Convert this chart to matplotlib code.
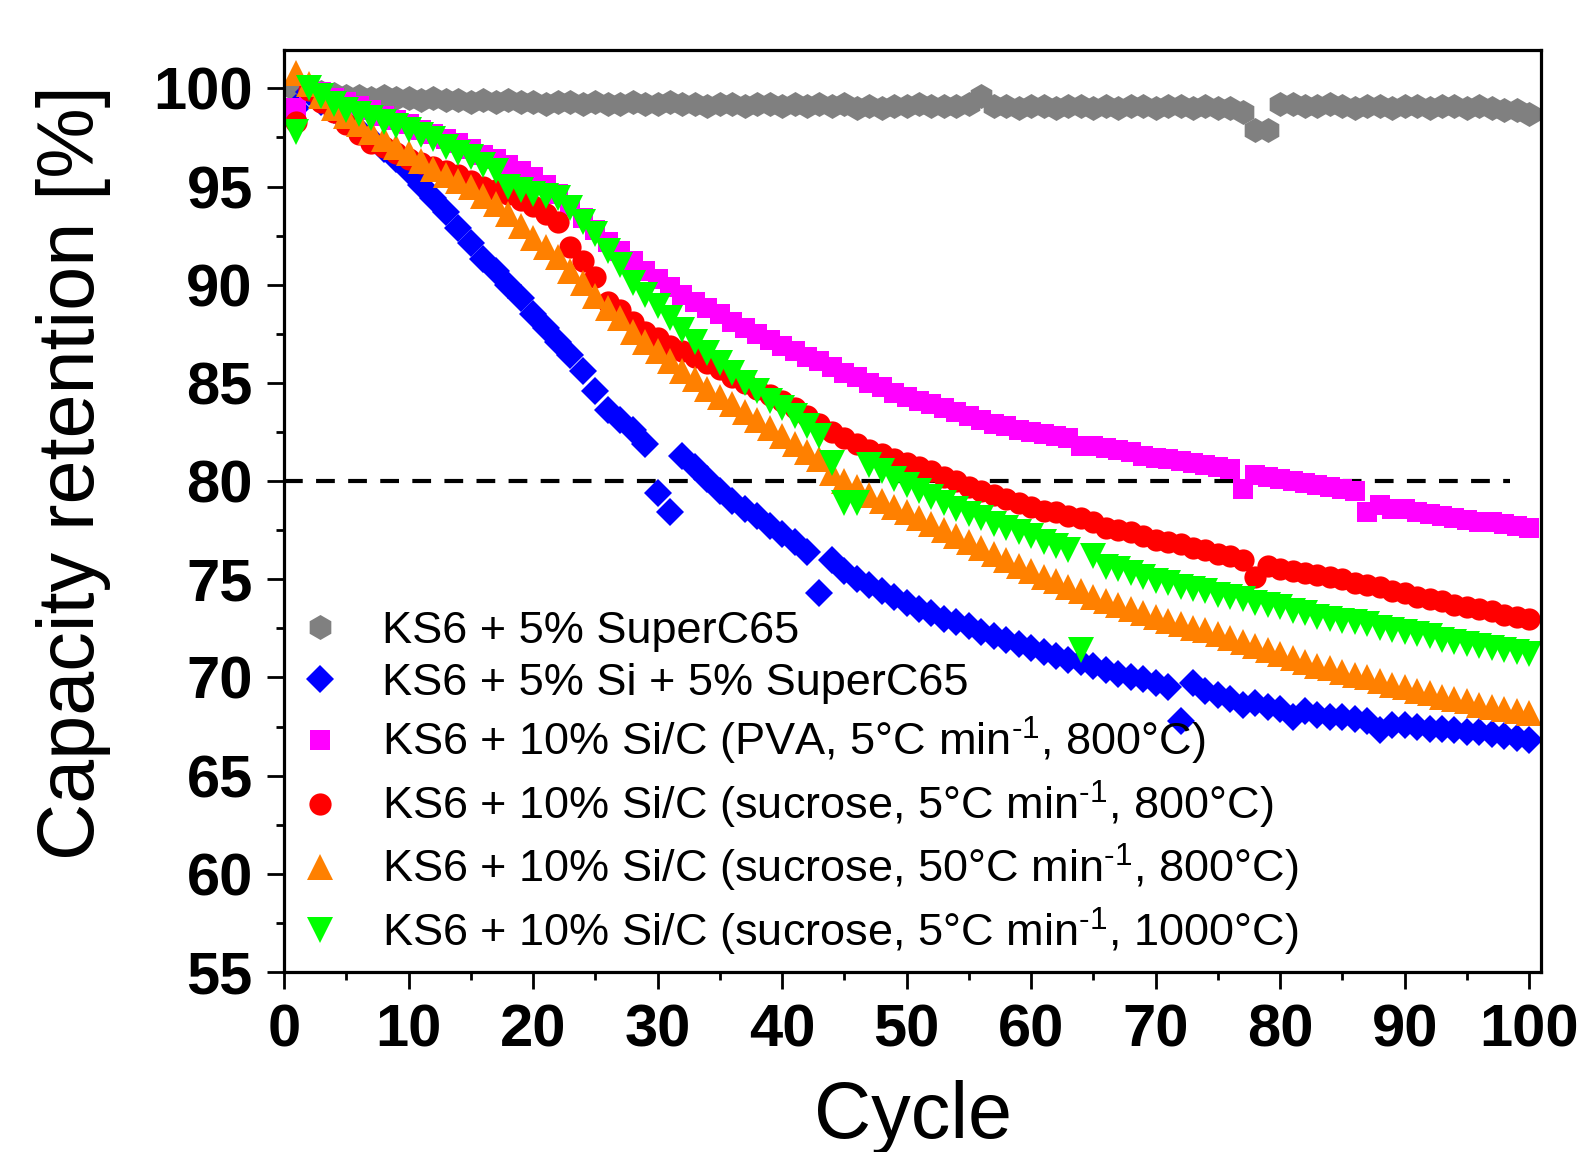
import numpy as np
import matplotlib
matplotlib.use("Agg")
import matplotlib.pyplot as plt
from matplotlib.ticker import MultipleLocator

plt.rcParams['font.family'] = ['Liberation Sans', 'DejaVu Sans']
plt.rcParams['mathtext.fontset'] = 'custom'
plt.rcParams['mathtext.rm'] = 'Liberation Sans'
plt.rcParams['mathtext.it'] = 'Liberation Sans:italic'
plt.rcParams['mathtext.bf'] = 'Liberation Sans:bold'

cycles = list(range(1, 101))

superc65 = [99.9, 100.0, 99.8, 99.7, 99.6, 99.6, 99.5, 99.6, 99.5, 99.5,
            99.4, 99.5, 99.4, 99.4, 99.3, 99.4, 99.3, 99.4, 99.3, 99.3,
            99.2, 99.3, 99.3, 99.2, 99.3, 99.2, 99.2, 99.3, 99.2, 99.2,
            99.3, 99.2, 99.2, 99.1, 99.2, 99.2, 99.1, 99.2, 99.2, 99.1,
            99.2, 99.1, 99.2, 99.1, 99.2, 99.0, 99.1, 99.0, 99.1, 99.1,
            99.2, 99.1, 99.1, 99.1, 99.2, 99.6, 99.1, 99.1, 99.0, 99.1,
            99.1, 99.0, 99.1, 99.1, 99.0, 99.1, 99.0, 99.1, 99.1, 99.0,
            99.1, 99.1, 99.0, 99.1, 99.0, 99.0, 98.8, 97.9, 97.9, 99.2,
            99.2, 99.1, 99.1, 99.2, 99.1, 99.0, 99.1, 99.1, 99.0, 99.1,
            99.1, 99.0, 99.1, 99.1, 99.0, 99.1, 99.0, 98.9, 98.9, 98.7]

si_superc65 = [99.0, 99.8, 99.3, 98.9, 98.4, 97.9, 97.4, 96.9, 96.4, 95.8,
               95.1, 94.4, 93.7, 92.9, 92.1, 91.3, 90.7, 90.0, 89.3, 88.5,
               87.8, 87.1, 86.4, 85.6, 84.6, 83.6, 83.1, 82.6, 81.9, 79.4,
               78.4, 81.3, 80.7, 80.1, 79.5, 79.0, 78.6, 78.2, 77.7, 77.3,
               76.9, 76.4, 74.3, 76.0, 75.4, 75.0, 74.7, 74.4, 74.1, 73.8,
               73.5, 73.3, 73.0, 72.8, 72.6, 72.3, 72.1, 71.9, 71.7, 71.5,
               71.3, 71.1, 70.9, 70.8, 70.6, 70.4, 70.2, 70.0, 69.9, 69.7,
               69.5, 67.8, 69.7, 69.3, 69.1, 68.9, 68.6, 68.7, 68.5, 68.4,
               68.0, 68.3, 68.1, 68.0, 68.0, 67.9, 67.8, 67.3, 67.6, 67.6,
               67.5, 67.4, 67.4, 67.3, 67.2, 67.2, 67.1, 67.0, 66.9, 66.8]

pva_5_800 = [99.0, 100.0, 99.8, 99.5, 99.3, 99.1, 98.9, 98.6, 98.4, 98.2,
             97.9, 97.7, 97.4, 97.2, 96.9, 96.6, 96.4, 96.1, 95.8, 95.5,
             95.1, 94.6, 94.0, 93.4, 92.8, 92.2, 91.7, 91.2, 90.7, 90.3,
             89.9, 89.5, 89.1, 88.8, 88.5, 88.1, 87.8, 87.5, 87.2, 86.9,
             86.6, 86.3, 86.1, 85.8, 85.5, 85.3, 85.0, 84.8, 84.5, 84.3,
             84.1, 83.9, 83.7, 83.5, 83.3, 83.1, 82.9, 82.8, 82.6, 82.5,
             82.4, 82.3, 82.2, 81.8, 81.8, 81.7, 81.6, 81.5, 81.3, 81.2,
             81.1, 81.0, 80.9, 80.8, 80.7, 80.6, 79.6, 80.3, 80.2, 80.1,
             80.0, 79.9, 79.8, 79.7, 79.6, 79.5, 78.4, 78.8, 78.6, 78.6,
             78.4, 78.3, 78.2, 78.1, 78.0, 77.9, 77.9, 77.8, 77.7, 77.6]

suc_5_800 = [98.3, 99.9, 99.3, 98.8, 98.2, 97.7, 97.2, 97.0, 96.7, 96.4,
             96.2, 96.0, 95.8, 95.6, 95.3, 95.0, 94.8, 94.6, 94.3, 94.0,
             93.6, 93.2, 91.9, 91.2, 90.4, 89.1, 88.7, 88.1, 87.6, 87.3,
             86.9, 86.6, 86.3, 86.0, 85.7, 85.3, 85.0, 84.7, 84.4, 84.1,
             83.7, 83.3, 82.9, 82.5, 82.2, 81.9, 81.6, 81.4, 81.1, 80.9,
             80.7, 80.5, 80.2, 80.0, 79.7, 79.5, 79.3, 79.1, 78.9, 78.7,
             78.5, 78.4, 78.2, 78.1, 77.9, 77.6, 77.5, 77.4, 77.2, 77.0,
             76.9, 76.8, 76.6, 76.5, 76.3, 76.2, 76.0, 75.1, 75.7, 75.5,
             75.4, 75.3, 75.2, 75.1, 75.0, 74.8, 74.7, 74.6, 74.4, 74.3,
             74.1, 74.0, 73.9, 73.7, 73.6, 73.5, 73.4, 73.2, 73.1, 73.0]

suc_50_800 = [100.8, 100.2, 99.6, 99.0, 98.6, 98.2, 97.8, 97.4, 97.0, 96.7,
              96.3, 95.9, 95.6, 95.3, 95.0, 94.5, 94.1, 93.6, 93.0, 92.4,
              91.9, 91.4, 90.7, 90.1, 89.4, 88.8, 88.3, 87.6, 87.1, 86.6,
              86.1, 85.6, 85.2, 84.7, 84.3, 83.9, 83.5, 83.1, 82.7, 82.3,
              81.9, 81.5, 81.1, 80.4, 80.0, 79.7, 79.3, 79.0, 78.7, 78.4,
              78.1, 77.8, 77.5, 77.2, 76.9, 76.6, 76.3, 76.0, 75.7, 75.4,
              75.1, 74.9, 74.6, 74.4, 74.1, 73.9, 73.7, 73.5, 73.3, 73.1,
              72.9, 72.7, 72.5, 72.4, 72.2, 72.0, 71.8, 71.6, 71.4, 71.2,
              71.0, 70.8, 70.6, 70.5, 70.3, 70.1, 70.0, 69.8, 69.6, 69.5,
              69.3, 69.2, 69.0, 68.9, 68.8, 68.6, 68.5, 68.4, 68.3, 68.2]

suc_5_1000 = [97.8, 100.0, 99.6, 99.2, 98.9, 98.7, 98.5, 98.3, 98.1, 97.9,
              97.6, 97.4, 97.0, 96.7, 96.5, 96.1, 95.8, 95.0, 94.8, 94.6,
              94.5, 94.4, 93.9, 93.2, 92.6, 91.7, 91.0, 90.1, 89.5, 88.9,
              88.3, 87.7, 87.1, 86.5, 86.0, 85.5, 85.0, 84.6, 84.1, 83.7,
              83.3, 82.8, 82.3, 80.9, 78.9, 78.9, 80.8, 80.5, 80.1, 79.8,
              79.5, 79.2, 78.9, 78.6, 78.3, 78.1, 77.8, 77.6, 77.4, 77.2,
              76.9, 76.7, 76.5, 71.4, 76.2, 75.6, 75.5, 75.3, 75.1, 74.9,
              74.8, 74.6, 74.5, 74.4, 74.2, 74.1, 74.0, 73.8, 73.7, 73.6,
              73.4, 73.3, 73.1, 73.0, 72.9, 72.8, 72.7, 72.5, 72.4, 72.3,
              72.2, 72.1, 71.9, 71.8, 71.7, 71.6, 71.5, 71.4, 71.3, 71.2]

labels = [
    "KS6 + 5% SuperC65",
    "KS6 + 5% Si + 5% SuperC65",
    "KS6 + 10% Si/C (PVA, 5°C min$^{\\text{-1}}$, 800°C)",
    "KS6 + 10% Si/C (sucrose, 5°C min$^{\\text{-1}}$, 800°C)",
    "KS6 + 10% Si/C (sucrose, 50°C min$^{\\text{-1}}$, 800°C)",
    "KS6 + 10% Si/C (sucrose, 5°C min$^{\\text{-1}}$, 1000°C)",
]
series = [superc65, si_superc65, pva_5_800, suc_5_800, suc_50_800, suc_5_1000]
colors = ["#808080", "#0000FF", "#FF00FF", "#FF0000", "#FF8000", "#00FF00"]
markers = ["h", "D", "s", "o", "^", "v"]
msizes = [18, 14.5, 14.5, 16, 19, 19]

fig = plt.figure(figsize=(15.85, 11.52), dpi=100)
ax = fig.add_axes([0.1792, 0.15625, 0.7931, 0.8003])

for y, c, m, ms, lab in zip(series, colors, markers, msizes, labels):
    ax.plot(cycles, y, linestyle="none", marker=m, markersize=ms,
            color=c, markeredgewidth=0, label=lab)

ax.plot([0, 98.5], [80, 80], color="black", linestyle=(0, (4.5, 3.2)), linewidth=3, zorder=1)

ax.set_xlim(0, 100.96)
ax.set_ylim(55, 101.95)
ax.xaxis.set_major_locator(MultipleLocator(10))
ax.xaxis.set_minor_locator(MultipleLocator(5))
ax.yaxis.set_major_locator(MultipleLocator(5))
ax.yaxis.set_minor_locator(MultipleLocator(2.5))

for s in ax.spines.values():
    s.set_linewidth(2.3)

ax.tick_params(which="major", direction="out", length=12.5, width=2.0, pad=10,
               labelsize=43)
ax.tick_params(which="minor", direction="out", length=5.5, width=2.0)
for lbl in ax.get_xticklabels() + ax.get_yticklabels():
    lbl.set_fontweight("bold")

ax.set_xlabel("Cycle", fontsize=57)
ax.set_ylabel("Capacity retention [%]", fontsize=57)
ax.xaxis.set_label_coords(0.5, -0.117)
ax.yaxis.set_label_coords(-0.138, 0.542)

leg = ax.legend(loc="lower left", bbox_to_anchor=(0.0, 0.0), frameon=False,
                fontsize=32.5, handlelength=0.95, handletextpad=0.90,
                borderpad=0.32, borderaxespad=0.0, labelspacing=0.25,
                markerscale=1.0, numpoints=1)

fig.savefig("out.png", dpi=100)
